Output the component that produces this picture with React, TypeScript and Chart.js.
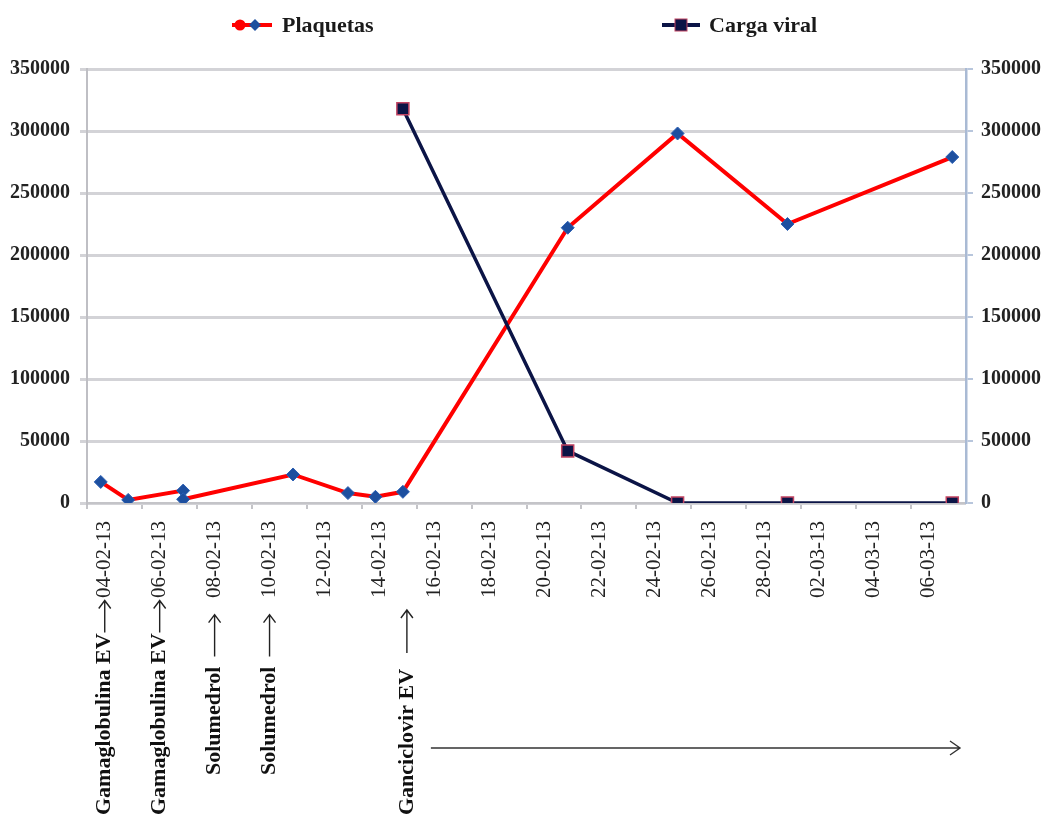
import React, { useEffect, useRef } from 'react';
import { Chart, registerables } from 'chart.js';

Chart.register(...registerables);

// ---------- data ----------
const categories: string[] = [
  '04-02-13', '05-02-13', '06-02-13', '07-02-13', '08-02-13', '09-02-13', '10-02-13', '11-02-13',
  '12-02-13', '13-02-13', '14-02-13', '15-02-13', '16-02-13', '17-02-13', '18-02-13', '19-02-13',
  '20-02-13', '21-02-13', '22-02-13', '23-02-13', '24-02-13', '25-02-13', '26-02-13', '27-02-13',
  '28-02-13', '01-03-13', '02-03-13', '03-03-13', '04-03-13', '05-03-13', '06-03-13', '07-03-13',
];

const plaquetasDates: string[] = [
  '04-02-13', '05-02-13', '07-02-13', '07-02-13', '11-02-13', '13-02-13',
  '14-02-13', '15-02-13', '21-02-13', '25-02-13', '01-03-13', '07-03-13',
];
const plaquetasValues: number[] = [
  17000, 2500, 10000, 3000, 23000, 8000, 5000, 9000, 222000, 298000, 225000, 279000,
];

const cargaDates: string[] = ['15-02-13', '21-02-13', '25-02-13', '01-03-13', '07-03-13'];
const cargaValues: number[] = [318000, 42000, 0, 0, 0];

const yTicks: number[] = [0, 50000, 100000, 150000, 200000, 250000, 300000, 350000];

const seriesNames: string[] = ['Plaquetas', 'Carga viral'];

const annotationDates: string[] = ['04-02-13', '06-02-13', '08-02-13', '10-02-13', '15-02-13'];
const annotationTexts: string[] = [
  'Gamaglobulina EV', 'Gamaglobulina EV', 'Solumedrol', 'Solumedrol', 'Ganciclovir EV',
];

// ---------- styles / layout ----------
const SERIF = '"Liberation Serif", "Times New Roman", serif';
const RED = '#ff0000';
const BLUE = '#1d4f9f';
const NAVY = '#0b1446';
const SQ_BORDER = '#c24462';
const GRID = '#d3d3d7';

const ANN_LAYOUT = [
  { bottom: 815, gap: 1, len: 32 },
  { bottom: 815, gap: 1, len: 32 },
  { bottom: 775, gap: 10, len: 42 },
  { bottom: 775, gap: 10, len: 42 },
  { bottom: 815, gap: 16, len: 43 },
];
const COL_SHIFT = 4;

const legendPlugin = {
  id: 'excelLegend',
  afterDraw(chart: any) {
    const ctx = chart.ctx as CanvasRenderingContext2D;
    const y = 25;
    ctx.save();
    // Plaquetas
    let x0 = 232;
    ctx.strokeStyle = RED;
    ctx.lineWidth = 4;
    ctx.beginPath();
    ctx.moveTo(x0, y);
    ctx.lineTo(x0 + 40, y);
    ctx.stroke();
    ctx.fillStyle = RED;
    ctx.beginPath();
    ctx.arc(x0 + 8, y, 5.5, 0, Math.PI * 2);
    ctx.fill();
    ctx.fillStyle = BLUE;
    ctx.beginPath();
    ctx.moveTo(x0 + 23, y - 6);
    ctx.lineTo(x0 + 29, y);
    ctx.lineTo(x0 + 23, y + 6);
    ctx.lineTo(x0 + 17, y);
    ctx.closePath();
    ctx.fill();
    ctx.fillStyle = '#1a1a1a';
    ctx.font = `bold 22px ${SERIF}`;
    ctx.textBaseline = 'middle';
    ctx.textAlign = 'left';
    ctx.fillText(seriesNames[0], x0 + 50, y + 1);

    // Carga viral
    x0 = 662;
    ctx.strokeStyle = NAVY;
    ctx.lineWidth = 4;
    ctx.beginPath();
    ctx.moveTo(x0, y);
    ctx.lineTo(x0 + 38, y);
    ctx.stroke();
    ctx.fillStyle = NAVY;
    ctx.fillRect(x0 + 13, y - 6, 12, 12);
    ctx.strokeStyle = SQ_BORDER;
    ctx.lineWidth = 1;
    ctx.strokeRect(x0 + 13, y - 6, 12, 12);
    ctx.fillStyle = '#1a1a1a';
    ctx.fillText(seriesNames[1], x0 + 47, y + 1);
    ctx.restore();
  },
};

const treatmentPlugin = {
  id: 'treatments',
  afterDraw(chart: any) {
    const ctx = chart.ctx as CanvasRenderingContext2D;
    const xs = chart.scales.x;
    const area = chart.chartArea;
    ctx.save();
    ctx.fillStyle = '#111';
    ctx.strokeStyle = '#222';
    ctx.lineWidth = 1.4;
    ctx.font = `bold 22px ${SERIF}`;
    annotationDates.forEach((d, i) => {
      const px = xs.getPixelForValue(categories.indexOf(d)) + COL_SHIFT;
      const L = ANN_LAYOUT[i];
      ctx.save();
      ctx.translate(px, L.bottom);
      ctx.rotate(-Math.PI / 2);
      ctx.textBaseline = 'middle';
      ctx.textAlign = 'left';
      ctx.fillText(annotationTexts[i], 0, 0);
      const w = ctx.measureText(annotationTexts[i]).width;
      const a0 = w + L.gap;
      const a1 = a0 + L.len;
      ctx.beginPath();
      ctx.moveTo(a0, 0);
      ctx.lineTo(a1, 0);
      ctx.moveTo(a1 - 8, -6);
      ctx.lineTo(a1, 0);
      ctx.lineTo(a1 - 8, 6);
      ctx.stroke();
      ctx.restore();
    });
    // continuing treatment arrow
    const last = annotationDates[annotationDates.length - 1];
    const sx = xs.getPixelForValue(categories.indexOf(last)) + 28;
    const ex = area.right - 6;
    const ay = 748;
    ctx.strokeStyle = '#333';
    ctx.lineWidth = 1.4;
    ctx.beginPath();
    ctx.moveTo(sx, ay);
    ctx.lineTo(ex, ay);
    ctx.moveTo(ex - 10, ay - 7);
    ctx.lineTo(ex, ay);
    ctx.lineTo(ex - 10, ay + 7);
    ctx.stroke();
    ctx.restore();
  },
};

export default function App() {
  const canvasRef = useRef<HTMLCanvasElement | null>(null);

  useEffect(() => {
    if (!canvasRef.current) return;
    const tickFont = { family: SERIF, size: 20, weight: 'bold' as const };
    const chart = new Chart(canvasRef.current, {
      type: 'line',
      data: {
        labels: categories,
        datasets: [
          {
            label: seriesNames[0],
            data: plaquetasDates.map((d, i) => ({ x: d, y: plaquetasValues[i] })),
            yAxisID: 'y',
            borderColor: RED,
            borderWidth: 4,
            pointStyle: 'rectRot',
            pointRadius: 6.5,
            pointBackgroundColor: BLUE,
            pointBorderColor: '#2b5fb3',
            pointBorderWidth: 1,
            tension: 0,
            order: 2,
          },
          {
            label: seriesNames[1],
            data: cargaDates.map((d, i) => ({ x: d, y: cargaValues[i] })),
            yAxisID: 'y1',
            borderColor: NAVY,
            borderWidth: 3.5,
            pointStyle: 'rect',
            pointRadius: 8.5,
            pointBackgroundColor: NAVY,
            pointBorderColor: SQ_BORDER,
            pointBorderWidth: 1.5,
            tension: 0,
            order: 1,
          },
        ],
      },
      options: {
        animation: false,
        responsive: true,
        maintainAspectRatio: false,
        layout: { padding: { top: 69, left: 0, right: 0, bottom: 0 } },
        plugins: {
          legend: { display: false },
          tooltip: { enabled: false },
        },
        scales: {
          x: {
            type: 'category',
            offset: true,
            grid: {
              offset: true,
              drawOnChartArea: false,
              drawTicks: true,
              tickLength: 6,
              lineWidth: 2,
              color: (c: any) => (c.index !== undefined && c.index % 2 === 0 ? '#c4c4c8' : 'rgba(0,0,0,0)'),
            },
            border: { display: true, color: '#c4c4c8', width: 2 },
            ticks: {
              autoSkip: false,
              maxRotation: 90,
              minRotation: 90,
              padding: 12,
              labelOffset: 4,
              color: '#222',
              font: { family: SERIF, size: 21 },
              callback: (_v: any, i: number) => (i % 2 === 0 ? categories[i] : ''),
            },
            afterFit: (s: any) => {
              s.height = 315;
            },
          },
          y: {
            position: 'left',
            min: 0,
            max: 350000,
            afterBuildTicks: (s: any) => {
              s.ticks = yTicks.map((v) => ({ value: v }));
            },
            grid: { color: GRID, lineWidth: 3, tickLength: 7, drawTicks: true },
            border: { display: true, color: '#bfbfc4', width: 2 },
            ticks: {
              padding: 10,
              color: '#222',
              font: tickFont,
              callback: (v: any) => String(v),
            },
            afterFit: (s: any) => {
              s.width = 87;
            },
          },
          y1: {
            position: 'right',
            min: 0,
            max: 350000,
            afterBuildTicks: (s: any) => {
              s.ticks = yTicks.map((v) => ({ value: v }));
            },
            grid: { drawOnChartArea: false, color: '#b8c6dc', lineWidth: 2, tickLength: 7, drawTicks: true },
            border: { display: true, color: '#a9bad4', width: 2.5 },
            ticks: {
              padding: 8,
              color: '#222',
              font: tickFont,
              callback: (v: any) => String(v),
            },
            afterFit: (s: any) => {
              s.width = 82;
            },
          },
        },
      },
      plugins: [legendPlugin, treatmentPlugin],
    });
    return () => chart.destroy();
  }, []);

  return (
    <div style={{ position: 'absolute', left: 0, top: 0, width: 1048, height: 818, background: '#fff' }}>
      <canvas ref={canvasRef} />
    </div>
  );
}
